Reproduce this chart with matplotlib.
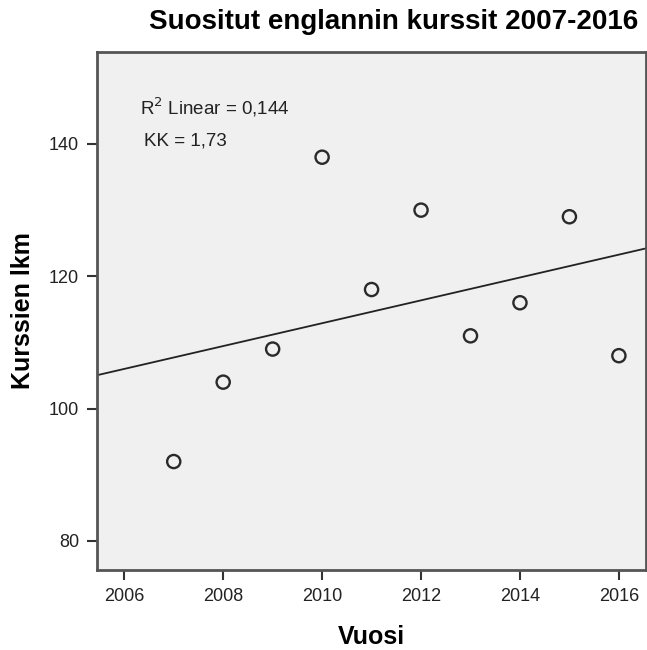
import numpy as np
import matplotlib.pyplot as plt

plt.rcParams['font.family'] = ['Liberation Sans', 'DejaVu Sans']

# courses per year
years = [2007, 2008, 2009, 2010, 2011, 2012, 2013, 2014, 2015, 2016]
courses = [92, 104, 109, 138, 118, 130, 111, 116, 129, 108]
x_ticks = [2006, 2008, 2010, 2012, 2014, 2016]
y_ticks = [80, 100, 120, 140]

x = np.array(years, dtype=float)
y = np.array(courses, dtype=float)
slope, intercept = np.polyfit(x, y, 1)
r2 = np.corrcoef(x, y)[0, 1] ** 2

fig = plt.figure(figsize=(6.47, 6.5), dpi=100)
ax = fig.add_axes([0.150, 0.123, 0.8486, 0.797])
ax.set_facecolor('#f0f0f0')

xlim = (2005.45, 2016.55)
ax.set_xlim(*xlim)
ax.set_ylim(75.6, 153.9)

# fit line across the whole axis
xs = np.array(xlim)
ax.plot(xs, slope * xs + intercept, color='#222222', lw=1.3, zorder=2)

ax.scatter(x, y, s=90, facecolors='none', edgecolors='#2a2a2a',
           linewidths=1.7, zorder=3)

ax.set_xticks(x_ticks)
ax.set_yticks(y_ticks)
ax.tick_params(direction='out', length=7, width=1.5, color='#333333',
               labelsize=13, labelcolor='#222222', pad=6)
for s in ax.spines.values():
    s.set_color('#555555')
    s.set_linewidth(2)

ax.set_xlabel('Vuosi', fontsize=18, fontweight='bold', labelpad=14)
ax.set_ylabel('Kurssien lkm', fontsize=18, fontweight='bold', labelpad=10)

ax.text(2006.32, 145.5, 'R$^2$ Linear = ' + f'{r2:.3f}'.replace('.', ','),
        fontsize=13.5, color='#222222', va='center')
ax.text(2006.4, 140.5, 'KK = ' + f'{slope:.2f}'.replace('.', ','),
        fontsize=13.5, color='#222222', va='center')

fig.text(0.609, 0.966, 'Suositut englannin kurssit 2007-2016',
         ha='center', va='center', fontsize=20, fontweight='bold')

fig.savefig('out.png', dpi=100)
